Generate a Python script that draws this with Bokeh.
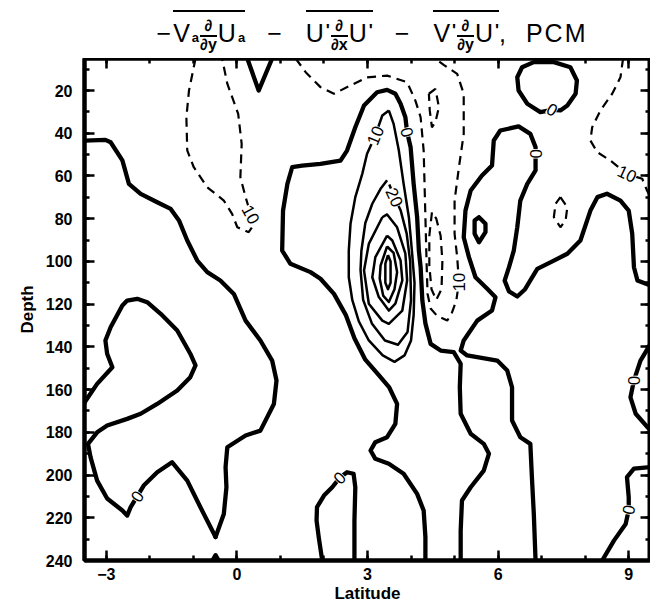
import math
from bokeh.plotting import figure
from bokeh.models import Range1d, FixedTicker, LinearAxis, Div, ColumnDataSource
from bokeh.layouts import column
from bokeh.core.properties import value
from bokeh.embed import file_html
from bokeh.resources import INLINE

# ---------------- data (latitude, depth) ----------------
X_TICKS = [-3, 0, 3, 6, 9]
X_MINOR = [-3, -2, -1, 0, 1, 2, 3, 4, 5, 6, 7, 8, 9]
Y_TICKS = [20, 40, 60, 80, 100, 120, 140, 160, 180, 200, 220, 240]
Y_MINOR = [10, 20, 30, 40, 50, 60, 70, 80, 90, 100, 110, 120, 130, 140, 150, 160,
           170, 180, 190, 200, 210, 220, 230, 240]

# zero contours (thick)
ZERO_UPPER_LEFT = [(-3.5, 43.4), (-3.02, 43.1), (-2.90, 44.2), (-2.63, 52.7), (-2.48, 63.7),
                   (-2.21, 68.4), (-1.83, 72.3), (-1.52, 75.4), (-1.33, 80.8), (-1.14, 90.2),
                   (-0.91, 99.6), (-0.68, 105), (-0.38, 108.9), (-0.07, 115.2), (0.20, 127.7),
                   (0.54, 137), (0.81, 146.4), (0.91, 155.7), (0.85, 166.7), (0.54, 179.2),
                   (0.20, 181.5), (-0.22, 187), (-0.26, 196.3), (-0.24, 205.7), (-0.30, 218.2),
                   (-0.49, 229)]
ZERO_LOWER_LEFT = [(-0.49, 229), (-0.84, 215), (-1.14, 202.6), (-1.49, 194), (-1.83, 198.7),
                   (-2.14, 204.9), (-2.29, 210), (-2.44, 215), (-2.52, 219), (-2.63, 216.6),
                   (-2.98, 211), (-3.21, 202.6), (-3.36, 191.7), (-3.42, 185.4), (-3.21, 180),
                   (-2.98, 176.8), (-2.52, 173.7), (-2.21, 171.3), (-1.83, 166.7), (-1.37, 160.4),
                   (-1.07, 154.2), (-0.95, 148.7), (-1.07, 143.2), (-1.37, 132.3), (-1.75, 124.5),
                   (-2.06, 119.1), (-2.29, 117.5), (-2.52, 118.3), (-2.63, 120.6), (-2.90, 130.8),
                   (-3.02, 137), (-2.98, 143.2), (-2.86, 149.5), (-3.21, 157.3), (-3.5, 166)]
ZERO_BOTTOM_DOT = [(-0.56, 240), (-0.49, 237.5), (-0.42, 240)]
ZERO_TOP_V = [(0.24, 5), (0.50, 20), (0.81, 5)]
ZERO_CENTER = [(4.33, 240), (4.33, 229), (4.29, 216.6), (4.14, 208.8), (3.83, 199.4),
               (3.49, 194.7), (3.18, 192.4), (3.07, 188.5), (3.18, 184.6), (3.45, 182.3),
               (3.64, 176), (3.68, 166.7), (3.50, 159), (3.25, 153), (2.95, 146),
               (2.70, 136), (2.50, 125), (2.23, 115.2), (1.92, 108.1), (1.69, 105),
               (1.23, 101.1), (1.04, 94.9), (1.06, 76.2), (1.16, 63.7), (1.27, 55.9),
               (1.5, 55.1), (1.92, 54.3), (2.38, 52.8), (2.53, 48.1), (2.72, 37.2),
               (2.92, 27), (3.22, 20.8), (3.45, 19.7), (3.64, 21.5), (3.76, 26.2),
               (3.87, 32.5), (3.91, 39.5), (3.99, 46.5), (4.06, 63.7), (4.14, 79.3),
               (4.18, 95), (4.22, 102.7), (4.26, 118.3), (4.33, 129), (4.45, 138.6),
               (4.68, 141.7), (4.98, 142.5), (5.14, 147.9), (5.12, 158.9), (5.14, 171.3),
               (5.37, 180.7), (5.67, 185.4), (5.79, 190), (5.67, 197.9), (5.37, 205.7),
               (5.17, 211.9), (5.14, 226), (5.14, 240)]
ZERO_RIGHT = [(6.86, 240), (6.82, 218.2), (6.78, 202.6), (6.74, 185.4), (6.51, 182.3),
              (6.32, 174.5), (6.32, 158.9), (6.21, 151.1), (5.98, 146.4), (5.29, 144),
              (5.14, 141.7), (5.21, 137), (5.52, 127.7), (5.86, 123), (5.94, 116.8),
              (5.75, 112.8), (5.48, 107.4), (5.33, 98), (5.21, 88.7), (5.25, 76.2),
              (5.37, 66.8), (5.63, 59.8), (5.86, 55.1), (5.90, 43.4), (6.05, 38.7),
              (6.47, 36.8), (6.74, 40.3), (6.86, 46.5), (6.86, 49.6), (6.86, 52.8),
              (6.86, 57.4), (6.67, 63.7), (6.51, 71.5), (6.44, 84), (6.36, 94.9),
              (6.25, 102.7), (6.15, 109), (6.25, 114), (6.44, 116.4), (6.62, 113),
              (6.74, 108.9), (6.90, 103.5), (7.28, 99.6), (7.59, 96.4), (7.89, 90.2),
              (8.12, 76.2), (8.28, 69.9), (8.50, 68.3), (8.81, 71.5), (9.0, 76.2),
              (9.08, 87), (9.12, 102.7), (9.2, 108.9), (9.5, 111.3)]
ZERO_TOP_LOOP = [(7.24, 29), (6.97, 30.1), (6.67, 26.2), (6.47, 20), (6.44, 13.8), (6.55, 9.1),
                 (6.82, 6.7), (7.28, 6.7), (7.66, 9.1), (7.81, 15.3), (7.78, 21.5), (7.59, 27),
                 (7.43, 29.3), (7.24, 29)]
ZERO_SMALL_LOOP = [(5.56, 79.3), (5.71, 82.4), (5.71, 86.3), (5.56, 91), (5.46, 87),
                   (5.46, 80.8), (5.56, 79.3)]
ZERO_RIGHT_EDGE = [(9.5, 138.6), (9.27, 146.4), (9.12, 155.7), (9.04, 163.6), (9.16, 171.3),
                   (9.5, 179.2)]
ZERO_BOTTOM_RIGHT = [(9.5, 196.3), (9.12, 197), (8.96, 201), (9.0, 210.4), (9.0, 216.3),
                     (8.93, 222.9), (8.66, 230.7), (8.39, 240)]
ZERO_BOTTOM_CENTER = [(1.96, 240), (1.88, 229.1), (1.83, 221.3), (1.84, 215), (2.0, 209.6),
                      (2.19, 205.7), (2.36, 201.3), (2.53, 198.7), (2.68, 199.4),
                      (2.72, 205.7), (2.70, 221.3), (2.70, 240)]

# positive contours (thin solid): 10, 20, 30, 40, 50, 60
POS_10 = [(3.49, 29.3), (3.34, 31.7), (3.18, 41), (2.99, 49.6), (2.88, 59), (2.72, 69.9),
          (2.61, 82.4), (2.57, 95), (2.57, 107.4), (2.65, 118), (2.80, 128), (3.03, 137),
          (3.35, 144), (3.62, 147), (3.85, 144), (4.0, 137), (4.06, 125), (4.08, 110),
          (4.02, 95), (3.95, 79.3), (3.83, 63.7), (3.72, 48.1), (3.60, 35.6), (3.49, 29.3)]
POS_20 = [(3.45, 62), (3.30, 66), (3.11, 73), (2.95, 82), (2.86, 95), (2.84, 104),
          (2.90, 118), (3.10, 129), (3.40, 137), (3.70, 139), (3.92, 133), (4.0, 118),
          (3.98, 100), (3.90, 87), (3.76, 76), (3.62, 70), (3.50, 64)]
POS_30 = [(3.34, 79.3), (3.03, 91.8), (2.92, 104.2), (3.03, 119.8), (3.34, 127.7),
          (3.49, 129.2), (3.80, 123), (3.91, 108.9), (3.87, 96.4), (3.68, 84), (3.45, 78),
          (3.34, 79.3)]
POS_40 = [(3.45, 87.9), (3.18, 98), (3.11, 107.4), (3.26, 116.7), (3.49, 123), (3.64, 119.8),
          (3.80, 108.9), (3.76, 99.6), (3.57, 90.2), (3.45, 87.9)]
POS_50 = [(3.45, 93), (3.30, 102), (3.28, 108), (3.36, 116), (3.49, 119), (3.62, 113),
          (3.68, 105), (3.60, 96), (3.45, 93)]
POS_60 = [(3.47, 97), (3.41, 101), (3.41, 110), (3.47, 113), (3.53, 110), (3.53, 100),
          (3.47, 97)]

# negative contours (dashed): -10, -20
NEG_UPPER_LEFT = [(-0.95, 5), (-1.10, 20), (-1.16, 32.5), (-1.14, 48), (-0.99, 55.9),
                  (-0.68, 65.3), (-0.30, 71.5), (-0.11, 77.7), (0.01, 84), (0.27, 86.3),
                  (0.35, 84), (0.32, 78), (0.20, 69.9), (0.08, 60.6), (0.11, 45),
                  (0.03, 30.9), (-0.22, 16.8), (-0.34, 5)]
NEG_CENTER = [(1.35, 5), (1.58, 11.4), (1.92, 18.4), (2.23, 21.5), (2.61, 17.6),
              (2.99, 13.8), (3.45, 13), (3.91, 16.1), (4.10, 24.7), (4.22, 32.5),
              (4.29, 48.1), (4.31, 63.7), (4.33, 79.3), (4.35, 95), (4.36, 102.7),
              (4.38, 115.2), (4.45, 122), (4.60, 125.5), (4.83, 127.7), (4.93, 124.5),
              (5.04, 118.3), (5.10, 109.7), (5.06, 98), (5.0, 87), (5.0, 71.5),
              (5.1, 55.9), (5.21, 40.3), (5.21, 21.5), (5.06, 12.2), (4.75, 8), (4.55, 5)]
NEG_TOP_LOOP = [(4.41, 21.5), (4.56, 19.2), (4.64, 27.8), (4.56, 34.8), (4.48, 37.2),
                (4.43, 29.3), (4.41, 21.5)]
NEG_MID_LOOP = [(4.48, 77), (4.42, 88), (4.42, 102), (4.47, 113), (4.58, 118), (4.70, 113),
                (4.72, 100), (4.68, 88), (4.58, 80), (4.48, 77)]
NEG_RIGHT = [(8.87, 5), (8.81, 13.8), (8.62, 21.5), (8.35, 29.3), (8.16, 37.2), (8.12, 43.4),
             (8.28, 48.9), (8.58, 52.8), (8.96, 59), (9.31, 61.3), (9.42, 66.8), (9.5, 70)]
NEG_RIGHT_LOOP = [(7.43, 69.9), (7.59, 74.6), (7.55, 80.8), (7.43, 84), (7.28, 79.3),
                  (7.32, 73), (7.43, 69.9)]

ZERO_LINES = [ZERO_UPPER_LEFT, ZERO_LOWER_LEFT, ZERO_BOTTOM_DOT, ZERO_TOP_V, ZERO_CENTER,
              ZERO_RIGHT, ZERO_TOP_LOOP, ZERO_SMALL_LOOP, ZERO_RIGHT_EDGE, ZERO_BOTTOM_RIGHT,
              ZERO_BOTTOM_CENTER]
POS_LINES = [POS_10, POS_20, POS_30, POS_40, POS_50, POS_60]
NEG_LINES = [NEG_UPPER_LEFT, NEG_CENTER, NEG_TOP_LOOP, NEG_MID_LOOP, NEG_RIGHT, NEG_RIGHT_LOOP]

# contour labels
LABEL_LAT = [-2.29, 0.32, 3.18, 3.91, 3.62, 5.10, 7.24, 6.86, 8.96, 9.12, 9.0, 2.36]
LABEL_DEPTH = [210, 78, 41, 39.5, 70, 109.7, 29, 49.6, 59, 155.7, 216.3, 201.3]
LABEL_TEXT = ["0", "10", "10", "0", "20", "10", "0", "0", "10", "0", "0", "0"]
LABEL_ANGLE = [55, -62, 68, -75, -65, 90, -30, 90, -25, 90, 80, 45]

# ---------------- figure ----------------
FONT = "Liberation Sans"

p = figure(x_range=Range1d(-3.5, 9.5), y_range=Range1d(240, 5),
           frame_width=566, frame_height=502,
           min_border_left=84, min_border_right=0, min_border_top=0, min_border_bottom=0,
           output_backend="svg", toolbar_location=None, x_axis_label="Latitude",
           y_axis_label="Depth")
p.xgrid.visible = False
p.ygrid.visible = False
p.outline_line_color = "black"
p.outline_line_width = 4
p.background_fill_color = "white"
p.border_fill_color = None


def split(lines):
    return [[pt[0] for pt in ln] for ln in lines], [[pt[1] for pt in ln] for ln in lines]


zx, zy = split(ZERO_LINES)
px, py = split(POS_LINES)
nx, ny = split(NEG_LINES)
p.multi_line(xs=nx, ys=ny, line_color="black", line_width=2.2, line_dash="9 6")
p.multi_line(xs=px, ys=py, line_color="black", line_width=2.5, line_join="round")
p.multi_line(xs=zx, ys=zy, line_color="black", line_width=4.3, line_join="round",
             line_cap="round")

lab = ColumnDataSource(dict(x=LABEL_LAT, y=LABEL_DEPTH, text=LABEL_TEXT,
                            angle=[math.radians(a) for a in LABEL_ANGLE]))
p.text(x="x", y="y", text="text", angle="angle", source=lab, text_align="center",
       text_baseline="middle", text_font=value(FONT), text_font_size="17px",
       text_color="black", background_fill_color="white")


def style_axis(ax, ticks, minor, labels=True):
    ax.ticker = FixedTicker(ticks=ticks, minor_ticks=minor)
    ax.major_tick_in = 10
    ax.major_tick_out = 0
    ax.minor_tick_in = 5
    ax.minor_tick_out = 0
    ax.major_tick_line_width = 2.5
    ax.minor_tick_line_width = 2.5
    ax.axis_line_width = 4
    ax.axis_line_color = "black"
    if labels:
        ax.major_label_text_font = FONT
        ax.major_label_text_font_style = "bold"
        ax.major_label_text_font_size = "16px"
        ax.major_label_text_color = "black"
        ax.axis_label_text_font = FONT
        ax.axis_label_text_font_style = "bold"
        ax.axis_label_text_font_size = "17px"
        ax.axis_label_text_color = "black"
    else:
        ax.major_label_text_font_size = "0px"
        ax.major_label_text_color = None
        ax.major_label_standoff = 0
        ax.axis_label_standoff = 0


style_axis(p.xaxis[0], X_TICKS, X_MINOR)
style_axis(p.yaxis[0], Y_TICKS, Y_MINOR)
p.xaxis[0].major_label_overrides = {-3: "\u22123"}
p.xaxis[0].major_label_standoff = 7
p.xaxis[0].axis_label_standoff = 1
p.yaxis[0].major_label_standoff = 12
p.yaxis[0].axis_label_standoff = 6

top_ax = LinearAxis()
right_ax = LinearAxis()
style_axis(top_ax, X_TICKS, X_MINOR, labels=False)
style_axis(right_ax, Y_TICKS, Y_MINOR, labels=False)
p.add_layout(top_ax, "above")
p.add_layout(right_ax, "right")

# ---------------- title (real text, HTML) ----------------
FR = ("<span style=\"display:inline-block;vertical-align:middle;text-align:center;"
      "font-size:16px;font-weight:bold;line-height:1;margin:0 1px;letter-spacing:0;\">"
      "<span style=\"display:block;border-bottom:2px solid black;padding:0 1px 1px 1px;\">&part;</span>"
      "<span style=\"display:block;\">&part;{v}</span></span>")
OV = "<span style=\"display:inline-block;border-top:2px solid black;padding-top:6px;\">{c}</span>"
SUB = "<span style=\"font-size:13px;font-weight:bold;letter-spacing:0;\">a</span>"
PR = "<span style=\"font-size:17px;font-weight:bold;vertical-align:6px;letter-spacing:0;\">'</span>"
MINUS = "<span style=\"margin:0 22px;\">&minus;</span>"

term1 = OV.format(c="V" + SUB + FR.format(v="y") + "U" + SUB)
term2 = OV.format(c="U" + PR + FR.format(v="x") + "U" + PR)
term3 = OV.format(c="V" + PR + FR.format(v="y") + "U" + PR)
title_html = ("<div style=\"width:566px;margin-left:84px;text-align:center;"
              "font-family:'Liberation Sans',Arial,sans-serif;font-size:25px;line-height:1;"
              "letter-spacing:2px;padding-top:5px;white-space:nowrap;color:black;\">"
              "&minus;" + term1 + MINUS + term2 + MINUS + term3 + ", &nbsp;PCM</div>")
title = Div(text=title_html, width=652, height=48, styles={"overflow": "visible"})

layout = column(title, p, spacing=0)
open("out.html", "w").write(file_html(layout, INLINE))
